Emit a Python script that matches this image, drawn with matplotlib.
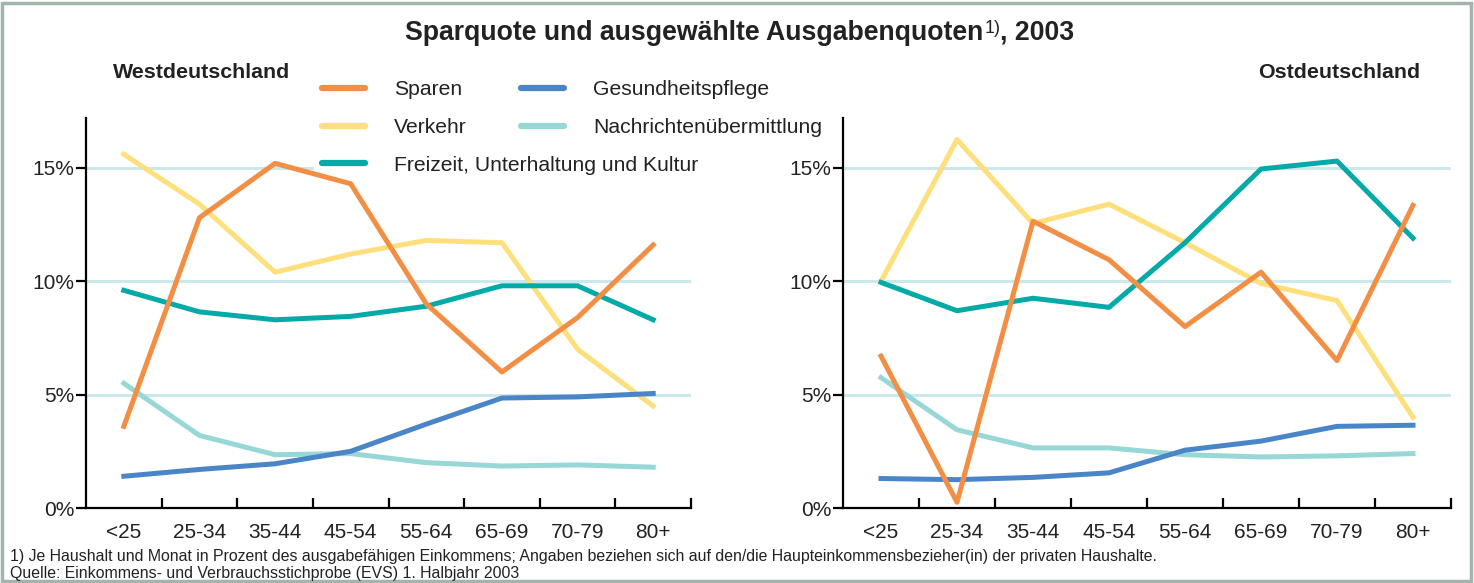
import matplotlib
matplotlib.use("Agg")
import matplotlib.pyplot as plt
from matplotlib.lines import Line2D
from matplotlib.patches import Rectangle

plt.rcParams['font.family'] = ['Liberation Sans', 'DejaVu Sans']

age_groups = ["<25", "25-34", "35-44", "45-54", "55-64", "65-69", "70-79", "80+"]
y_ticks = [0, 5, 10, 15]
y_tick_labels = ["0%", "5%", "10%", "15%"]

series_names = ["Sparen", "Verkehr", "Freizeit, Unterhaltung und Kultur",
                "Gesundheitspflege", "Nachrichtenübermittlung"]

# West (Prozent)
west_sparen = [3.6, 12.8, 15.2, 14.3, 9.0, 6.0, 8.4, 11.6]
west_verkehr = [15.6, 13.4, 10.4, 11.2, 11.8, 11.7, 7.0, 4.5]
west_freizeit = [9.6, 8.65, 8.3, 8.45, 8.9, 9.8, 9.8, 8.3]
west_gesundheit = [1.4, 1.7, 1.95, 2.5, 3.7, 4.85, 4.9, 5.05]
west_nachrichten = [5.5, 3.2, 2.35, 2.4, 2.0, 1.85, 1.9, 1.8]

# Ost (Prozent)
east_sparen = [6.7, 0.25, 12.65, 10.95, 8.0, 10.4, 6.5, 13.35]
east_verkehr = [10.0, 16.25, 12.55, 13.4, 11.7, 9.9, 9.15, 4.0]
east_freizeit = [9.95, 8.7, 9.25, 8.85, 11.7, 14.95, 15.3, 11.9]
east_gesundheit = [1.3, 1.25, 1.35, 1.55, 2.55, 2.95, 3.6, 3.65]
east_nachrichten = [5.75, 3.45, 2.65, 2.65, 2.35, 2.25, 2.3, 2.4]

colors = {"Sparen": "#f28f45",
          "Verkehr": "#fde07c",
          "Freizeit, Unterhaltung und Kultur": "#04aaa7",
          "Gesundheitspflege": "#4a85c8",
          "Nachrichtenübermittlung": "#97d7d6"}
grid_color = "#cbe9ea"
text_color = "#222222"

W, H = 1474, 583
fig = plt.figure(figsize=(W / 100, H / 100), dpi=100)


def draw_panel(ax, data):
    x = range(len(age_groups))
    for yv in y_ticks[1:]:
        ax.axhline(yv, color=grid_color, lw=2.2, zorder=1)
    # draw order: Verkehr, Nachrichten, Gesundheit, Freizeit, Sparen
    for name in ["Verkehr", "Nachrichtenübermittlung", "Gesundheitspflege",
                 "Freizeit, Unterhaltung und Kultur", "Sparen"]:
        ax.plot(x, data[name], color=colors[name], lw=3.6, zorder=2)
    ax.set_xlim(-0.5, len(age_groups) - 0.5)
    ax.set_ylim(0, 17.2)
    ax.spines['top'].set_visible(False)
    ax.spines['right'].set_visible(False)
    ax.spines['left'].set_linewidth(1.6)
    ax.spines['bottom'].set_linewidth(1.6)
    ax.set_yticks(y_ticks)
    ax.set_yticklabels(y_tick_labels)
    ax.set_xticks(list(x))
    ax.set_xticklabels(age_groups)
    ax.set_xticks([i + 0.5 for i in x], minor=True)
    ax.tick_params(axis='x', which='major', length=0, pad=11, labelsize=15,
                   labelcolor=text_color)
    ax.tick_params(axis='x', which='minor', direction='in', length=7, width=1.6)
    ax.tick_params(axis='y', direction='out', length=7, width=1.6, pad=1.5,
                   labelsize=15, labelcolor=text_color)


ax_w = fig.add_axes([86 / W, 1 - 508 / H, 605 / W, 390 / H])
ax_e = fig.add_axes([843 / W, 1 - 508 / H, 608 / W, 390 / H])

draw_panel(ax_w, {"Sparen": west_sparen, "Verkehr": west_verkehr,
                  "Freizeit, Unterhaltung und Kultur": west_freizeit,
                  "Gesundheitspflege": west_gesundheit,
                  "Nachrichtenübermittlung": west_nachrichten})
draw_panel(ax_e, {"Sparen": east_sparen, "Verkehr": east_verkehr,
                  "Freizeit, Unterhaltung und Kultur": east_freizeit,
                  "Gesundheitspflege": east_gesundheit,
                  "Nachrichtenübermittlung": east_nachrichten})

# legend in two blocks, sitting under the data lines
handles = [Line2D([], [], color=colors[n], lw=4.5, solid_capstyle='round')
           for n in series_names]
leg_kw = dict(loc='upper left', bbox_transform=fig.transFigure, fontsize=15.2,
              handlelength=2.0, handletextpad=1.4, labelspacing=0.88,
              borderpad=0.4, borderaxespad=0, fancybox=False, framealpha=1,
              labelcolor=text_color)
leg1 = ax_w.legend(handles[:3], series_names[:3],
                   bbox_to_anchor=(314 / W, 1 - 72 / H), **leg_kw)
leg1.get_frame().set_edgecolor('none')
leg1.set_zorder(1.5)
ax_w.add_artist(leg1)
leg2 = ax_w.legend(handles[3:], series_names[3:],
                   bbox_to_anchor=(513 / W, 1 - 72 / H), **leg_kw)
leg2.get_frame().set_edgecolor('none')
leg2.set_zorder(1.5)

# title with superscript footnote mark
r = fig.canvas.get_renderer()
t1 = fig.text(405 / W, 1 - 40 / H, "Sparquote und ausgewählte Ausgabenquoten",
              fontsize=19.2, weight='bold', va='baseline', color=text_color)
bb = t1.get_window_extent(r)
t2 = fig.text((bb.x1 + 1) / W, 1 - 33 / H, "1)", fontsize=13,
              va='baseline', color=text_color)
bb2 = t2.get_window_extent(r)
fig.text(bb2.x1 / W, 1 - 40 / H, ", 2003", fontsize=19.2, weight='bold',
         va='baseline', color=text_color)

fig.text(113 / W, 1 - 78 / H, "Westdeutschland", fontsize=15.4, weight='bold',
         va='baseline', color=text_color)
fig.text(1420 / W, 1 - 78 / H, "Ostdeutschland", fontsize=15.4, weight='bold',
         va='baseline', ha='right', color=text_color)

fig.text(10 / W, 1 - 561 / H,
         "1) Je Haushalt und Monat in Prozent des ausgabefähigen Einkommens; "
         "Angaben beziehen sich auf den/die Haupteinkommensbezieher(in) der "
         "privaten Haushalte.", fontsize=11.4, va='baseline', color=text_color)
fig.text(10 / W, 1 - 578 / H,
         "Quelle: Einkommens- und Verbrauchsstichprobe (EVS) 1. Halbjahr 2003",
         fontsize=11.4, va='baseline', color=text_color)

fig.add_artist(Rectangle((2 / W, 2 / H), 1469 / W, 578 / H, transform=fig.transFigure,
                         fill=False, ec="#a3b5ab", lw=2.5))

fig.savefig("out.png", dpi=100)
